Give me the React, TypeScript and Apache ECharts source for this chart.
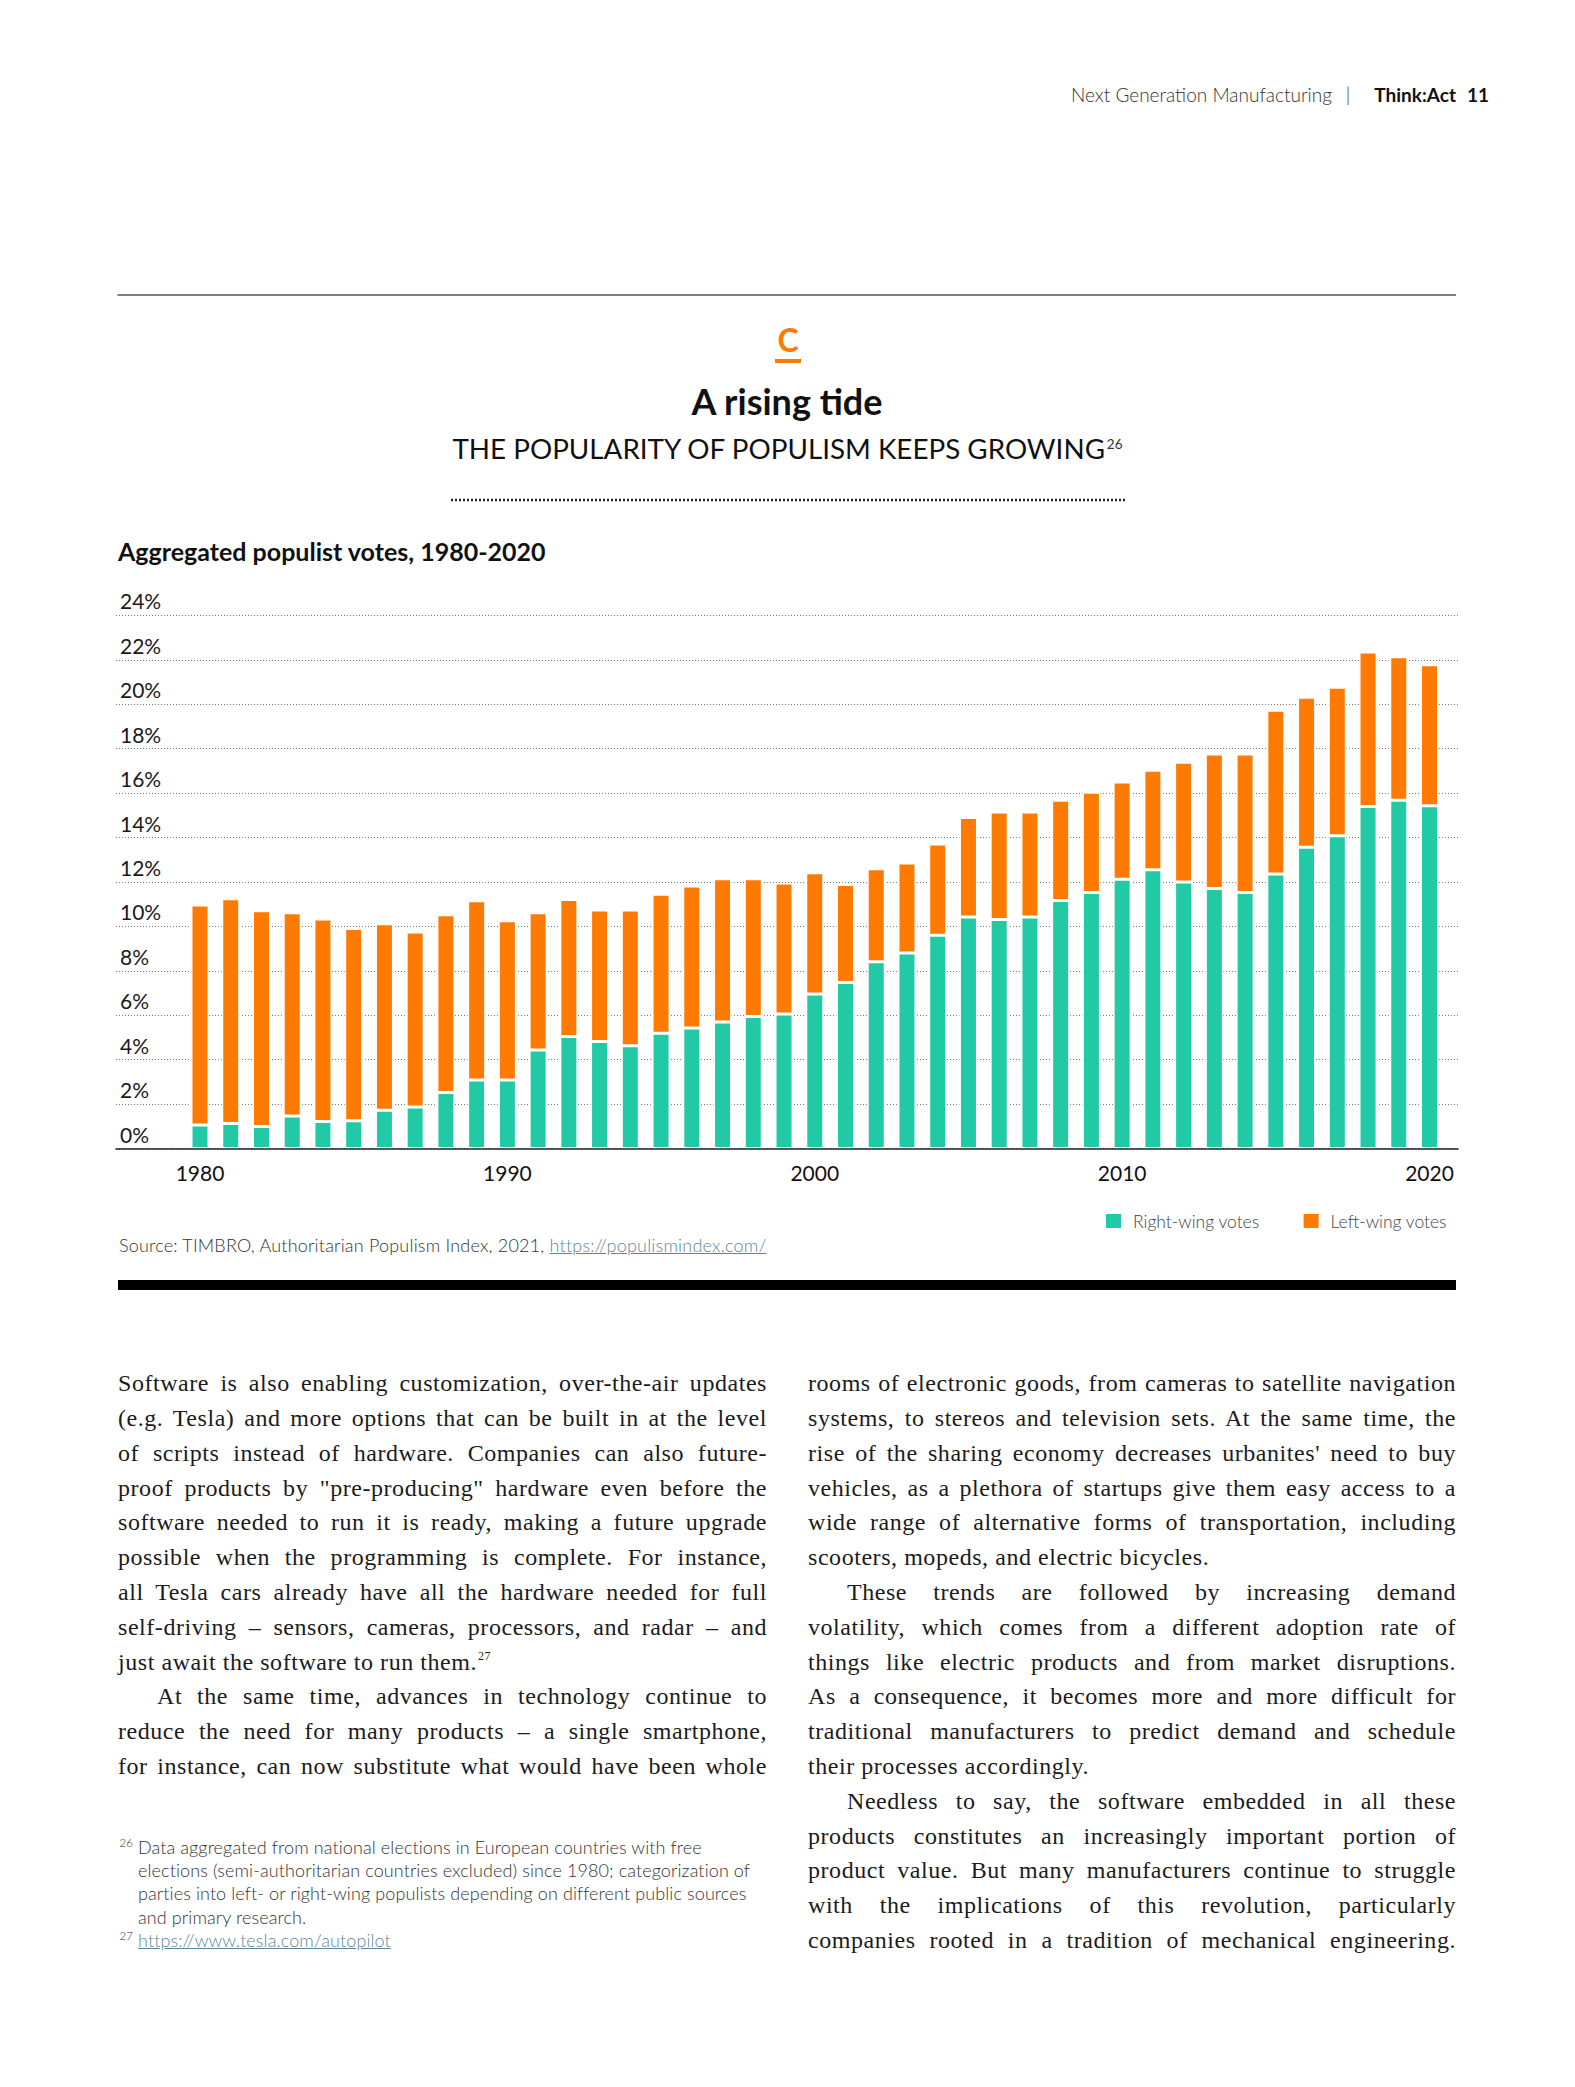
import React, { useEffect, useRef } from "react";
import * as echarts from "echarts";

// ---------- chart data ----------
const years = [
  "1980", "1981", "1982", "1983", "1984", "1985", "1986", "1987", "1988", "1989",
  "1990", "1991", "1992", "1993", "1994", "1995", "1996", "1997", "1998", "1999",
  "2000", "2001", "2002", "2003", "2004", "2005", "2006", "2007", "2008", "2009",
  "2010", "2011", "2012", "2013", "2014", "2015", "2016", "2017", "2018", "2019",
  "2020",
];
const rightWingVotes = [
  1.06, 1.12, 0.99, 1.46, 1.21, 1.25, 1.72, 1.87, 2.52, 3.08,
  3.08, 4.43, 5.04, 4.82, 4.63, 5.19, 5.42, 5.70, 5.94, 6.05,
  6.95, 7.47, 8.41, 8.80, 9.60, 10.42, 10.31, 10.42, 11.16, 11.52,
  12.12, 12.55, 12.0, 11.70, 11.52, 12.36, 13.56, 14.08, 15.40, 15.68,
  15.43,
];
const leftWingVotes = [
  9.90, 10.12, 9.71, 9.15, 9.12, 8.65, 8.40, 7.88, 8.00, 8.07,
  7.17, 6.18, 6.17, 5.92, 6.11, 6.26, 6.40, 6.44, 6.20, 5.90,
  5.46, 4.41, 4.18, 4.05, 4.11, 4.48, 4.84, 4.73, 4.52, 4.52,
  4.38, 4.48, 5.39, 6.06, 6.24, 7.37, 6.76, 6.68, 6.95, 6.46,
  6.35,
];
const xLabelYears = ["1980", "1990", "2000", "2010", "2020"];
const yMin = 0;
const yMax = 24;
const yStep = 2;
const seriesNames = ["Right-wing votes", "Left-wing votes"];

// ---------- page text ----------
const leftColumn = [
  { t: "Software is also enabling customization, over-the-air updates", indent: false, last: false },
  { t: "(e.g. Tesla) and more options that can be built in at the level", indent: false, last: false },
  { t: "of scripts instead of hardware. Companies can also future-", indent: false, last: false },
  { t: "proof products by \"pre-producing\" hardware even before the", indent: false, last: false },
  { t: "software needed to run it is ready, making a future upgrade", indent: false, last: false },
  { t: "possible when the programming is complete. For instance,", indent: false, last: false },
  { t: "all Tesla cars already have all the hardware needed for full", indent: false, last: false },
  { t: "self-driving – sensors, cameras, processors, and radar – and", indent: false, last: false },
  { t: "just await the software to run them.", indent: false, last: true, sup: "27" },
  { t: "At the same time, advances in technology continue to", indent: true, last: false },
  { t: "reduce the need for many products – a single smartphone,", indent: false, last: false },
  { t: "for instance, can now substitute what would have been whole", indent: false, last: false },
];
const rightColumn = [
  { t: "rooms of electronic goods, from cameras to satellite navigation", indent: false, last: false },
  { t: "systems, to stereos and television sets. At the same time, the", indent: false, last: false },
  { t: "rise of the sharing economy decreases urbanites' need to buy", indent: false, last: false },
  { t: "vehicles, as a plethora of startups give them easy access to a", indent: false, last: false },
  { t: "wide range of alternative forms of transportation, including", indent: false, last: false },
  { t: "scooters, mopeds, and electric bicycles.", indent: false, last: true },
  { t: "These trends are followed by increasing demand", indent: true, last: false },
  { t: "volatility, which comes from a different adoption rate of", indent: false, last: false },
  { t: "things like electric products and from market disruptions.", indent: false, last: false },
  { t: "As a consequence, it becomes more and more difficult for", indent: false, last: false },
  { t: "traditional manufacturers to predict demand and schedule", indent: false, last: false },
  { t: "their processes accordingly.", indent: false, last: true },
  { t: "Needless to say, the software embedded in all these", indent: true, last: false },
  { t: "products constitutes an increasingly important portion of", indent: false, last: false },
  { t: "product value. But many manufacturers continue to struggle", indent: false, last: false },
  { t: "with the implications of this revolution, particularly", indent: false, last: false },
  { t: "companies rooted in a tradition of mechanical engineering.", indent: false, last: false },
];
const footnote26 = [
  "Data aggregated from national elections in European countries with free",
  "elections (semi-authoritarian countries excluded) since 1980; categorization of",
  "parties into left- or right-wing populists depending on different public sources",
  "and primary research.",
];

const GREEN = "#21C9A5";
const ORANGE = "#FF7A00";
const SANS = 'Lato, "Open Sans", "Noto Sans", sans-serif';
const SERIF = '"Liberation Serif", "DejaVu Serif", serif';

function Chart() {
  const ref = useRef<HTMLDivElement>(null);
  useEffect(() => {
    if (!ref.current) return;
    const chart = echarts.init(ref.current, undefined, { renderer: "svg" });
    const gridTop = 615.4;
    const gridHeight = 533.1;
    const option: any = {
      animation: false,
      backgroundColor: "#ffffff",
      textStyle: { fontFamily: SANS },
      grid: [
        { left: 116, top: gridTop, width: 1342, height: gridHeight },
        { left: 184.63, top: gridTop, width: 1260.25, height: gridHeight },
      ],
      xAxis: [
        {
          gridIndex: 0,
          type: "value",
          min: 0,
          max: 1,
          z: 5,
          axisLine: { show: true, onZero: false, lineStyle: { color: "#222", width: 1.5 } },
          axisTick: { show: false },
          axisLabel: { show: false },
          splitLine: { show: false },
        },
        {
          gridIndex: 1,
          type: "category",
          data: years,
          axisLine: { show: false },
          axisTick: { show: false },
          axisLabel: {
            interval: (_i: number, v: string) => xLabelYears.indexOf(v) >= 0,
            color: "#111",
            fontSize: 21,
            fontFamily: SANS,
            margin: 13,
          },
        },
      ],
      yAxis: [
        {
          gridIndex: 0,
          type: "value",
          min: yMin,
          max: yMax,
          interval: yStep,
          axisLine: { show: false },
          axisTick: { show: false },
          splitLine: { show: true, lineStyle: { color: "#7a7a7a", width: 1, type: [1, 2] } },
          axisLabel: {
            inside: true,
            margin: 4,
            formatter: (v: number) => v + "%",
            color: "#1a1a1a",
            fontSize: 21,
            fontFamily: SANS,
            verticalAlign: "bottom",
            padding: [0, 0, 4, 0],
          },
        },
        { gridIndex: 1, type: "value", min: yMin, max: yMax, show: false },
      ],
      legend: {
        data: seriesNames,
        left: 1104,
        top: 1212,
        padding: 0,
        itemWidth: 17,
        itemHeight: 16,
        itemGap: 42,
        icon: "rect",
        textStyle: { fontSize: 17.5, color: "#444", fontFamily: SANS, fontWeight: 300, padding: [0, 0, 0, 6] },
      },
      series: [
        {
          name: seriesNames[0],
          type: "bar",
          xAxisIndex: 1,
          yAxisIndex: 1,
          stack: "votes",
          barWidth: 18,
          data: rightWingVotes,
          itemStyle: { color: GREEN, borderColor: "#ffffff", borderWidth: 1.5 },
        },
        {
          name: seriesNames[1],
          type: "bar",
          xAxisIndex: 1,
          yAxisIndex: 1,
          stack: "votes",
          barWidth: 18,
          data: leftWingVotes,
          itemStyle: { color: ORANGE, borderColor: "#ffffff", borderWidth: 1.5 },
        },
      ],
      graphic: [
        // page header
        {
          type: "text", x: 1332, y: 94.3,
          style: { text: "Next Generation Manufacturing", fill: "#333", fontSize: 19, fontWeight: 300, fontFamily: SANS, textAlign: "right", textVerticalAlign: "middle", align: "right", verticalAlign: "middle" },
        },
        {
          type: "text", x: 1348, y: 94.3,
          style: { text: "|", fill: "#333", fontSize: 19, fontWeight: 300, fontFamily: SANS, textAlign: "center", textVerticalAlign: "middle", align: "center", verticalAlign: "middle" },
        },
        {
          type: "text", x: 1456, y: 94.3,
          style: { text: "Think:Act", fill: "#111", fontSize: 19, fontWeight: 700, fontFamily: SANS, textAlign: "right", textVerticalAlign: "middle", align: "right", verticalAlign: "middle" },
        },
        {
          type: "text", x: 1489, y: 94.3,
          style: { text: "11", fill: "#111", fontSize: 19, fontWeight: 700, fontFamily: SANS, textAlign: "right", textVerticalAlign: "middle", align: "right", verticalAlign: "middle" },
        },
        // top rule
        { type: "line", shape: { x1: 117.5, y1: 295, x2: 1456, y2: 295 }, style: { stroke: "#555", lineWidth: 1.5 } },
        // C logo
        {
          type: "text", x: 788, y: 339.6,
          style: { text: "C", fill: ORANGE, fontSize: 32, fontWeight: 700, fontFamily: SANS, textAlign: "center", textVerticalAlign: "middle", align: "center", verticalAlign: "middle" },
        },
        { type: "rect", shape: { x: 775, y: 359, width: 26, height: 4 }, style: { fill: ORANGE } },
        // title
        {
          type: "text", x: 787, y: 401.4,
          style: { text: "A rising tide", fill: "#111", fontSize: 36, fontWeight: 700, fontFamily: SANS, textAlign: "center", textVerticalAlign: "middle", align: "center", verticalAlign: "middle" },
        },
        // subtitle
        {
          type: "text", x: 787, y: 448.8,
          style: {
            text: "{m|THE POPULARITY OF POPULISM KEEPS GROWING}{s|26}",
            textAlign: "center", textVerticalAlign: "middle", align: "center", verticalAlign: "middle",
            rich: {
              m: { fontSize: 27.8, fontFamily: SANS, fill: "#111", color: "#111", lineHeight: 32 },
              s: { fontSize: 13.5, fontFamily: SANS, fill: "#333", color: "#333", padding: [0, 0, 9, 1] },
            },
          },
        },
        // dotted rule
        { type: "line", shape: { x1: 451, y1: 500, x2: 1125, y2: 500 }, style: { stroke: "#222", lineWidth: 2.5, lineDash: [2, 2] } },
        // chart title
        {
          type: "text", x: 118, y: 551.0,
          style: { text: "Aggregated populist votes, 1980-2020", fill: "#111", fontSize: 25, fontWeight: 700, fontFamily: SANS, textAlign: "left", textVerticalAlign: "middle", align: "left", verticalAlign: "middle" },
        },
        // black bar
        { type: "rect", shape: { x: 118, y: 1280, width: 1338, height: 10 }, style: { fill: "#000" } },
      ],
    };
    chart.setOption(option);
    return () => chart.dispose();
  }, []);
  return <div ref={ref} style={{ position: "absolute", left: 0, top: 0, width: 1575, height: 2087 }} />;
}

const LINE_H = 34.8;
const BODY_FS = 24;
// baseline of first line at 1391.7; Liberation Serif ascent 0.891, descent 0.216
const BODY_TOP = 1391.7 - ((LINE_H - 1.107 * BODY_FS) / 2 + 0.891 * BODY_FS);

function Column({ lines, left, width }: { lines: any[]; left: number; width: number }) {
  return (
    <>
      {lines.map((ln, i) => {
        const indent = ln.indent ? 39 : 0;
        return (
          <div
            key={i}
            style={{
              position: "absolute",
              left: left + indent,
              top: BODY_TOP + i * LINE_H,
              width: width - indent,
              height: LINE_H,
              fontFamily: SERIF,
              fontSize: BODY_FS + "px",
              lineHeight: LINE_H + "px",
              letterSpacing: "0.55px",
              color: "#1b1b1b",
              textAlign: ln.last ? "left" : "justify",
              textAlignLast: ln.last ? "left" : "justify",
            } as any}
          >
            {ln.t}
            {ln.sup ? (
              <span style={{ fontSize: "12px", position: "relative", top: "-10px", marginLeft: "1px" }}>{ln.sup}</span>
            ) : null}
          </div>
        );
      })}
    </>
  );
}

const FN_H = 23.3;
const FN_FS = 18;
const FN_TOP = 1854.3 - ((FN_H - 1.2 * FN_FS) / 2 + 0.987 * FN_FS);

function Footnotes() {
  const common: any = {
    position: "absolute",
    fontFamily: SANS,
    fontWeight: 300,
    fontSize: FN_FS + "px",
    lineHeight: FN_H + "px",
    letterSpacing: "0.1px",
    color: "#333",
    whiteSpace: "nowrap",
  };
  return (
    <>
      <div style={{ ...common, left: 119.5, top: FN_TOP - 5, fontSize: "11.5px" }}>26</div>
      {footnote26.map((t, i) => (
        <div key={i} style={{ ...common, left: 138, top: FN_TOP + i * FN_H }}>{t}</div>
      ))}
      <div style={{ ...common, left: 119.5, top: FN_TOP + 4 * FN_H - 5, fontSize: "11.5px" }}>27</div>
      <div style={{ ...common, left: 138, top: FN_TOP + 4 * FN_H, color: "#5d8696", textDecoration: "underline" }}>
        https://www.tesla.com/autopilot
      </div>
    </>
  );
}

export default function App() {
  return (
    <div style={{ position: "absolute", left: 0, top: 0, width: 1575, height: 2087, background: "#fff", overflow: "hidden" }}>
      <Chart />
      <div
        style={{
          position: "absolute",
          left: 119,
          top: 1253 - 0.987 * 18,
          fontFamily: SANS,
          fontWeight: 300,
          fontSize: "18px",
          lineHeight: "21.6px",
          letterSpacing: "0.2px",
          color: "#333",
          whiteSpace: "nowrap",
        }}
      >
        Source: TIMBRO, Authoritarian Populism Index, 2021,{" "}
        <span style={{ color: "#5d8696", textDecoration: "underline" }}>https://populismindex.com/</span>
      </div>
      <Column lines={leftColumn} left={118} width={649} />
      <Column lines={rightColumn} left={808} width={648} />
      <Footnotes />
    </div>
  );
}
